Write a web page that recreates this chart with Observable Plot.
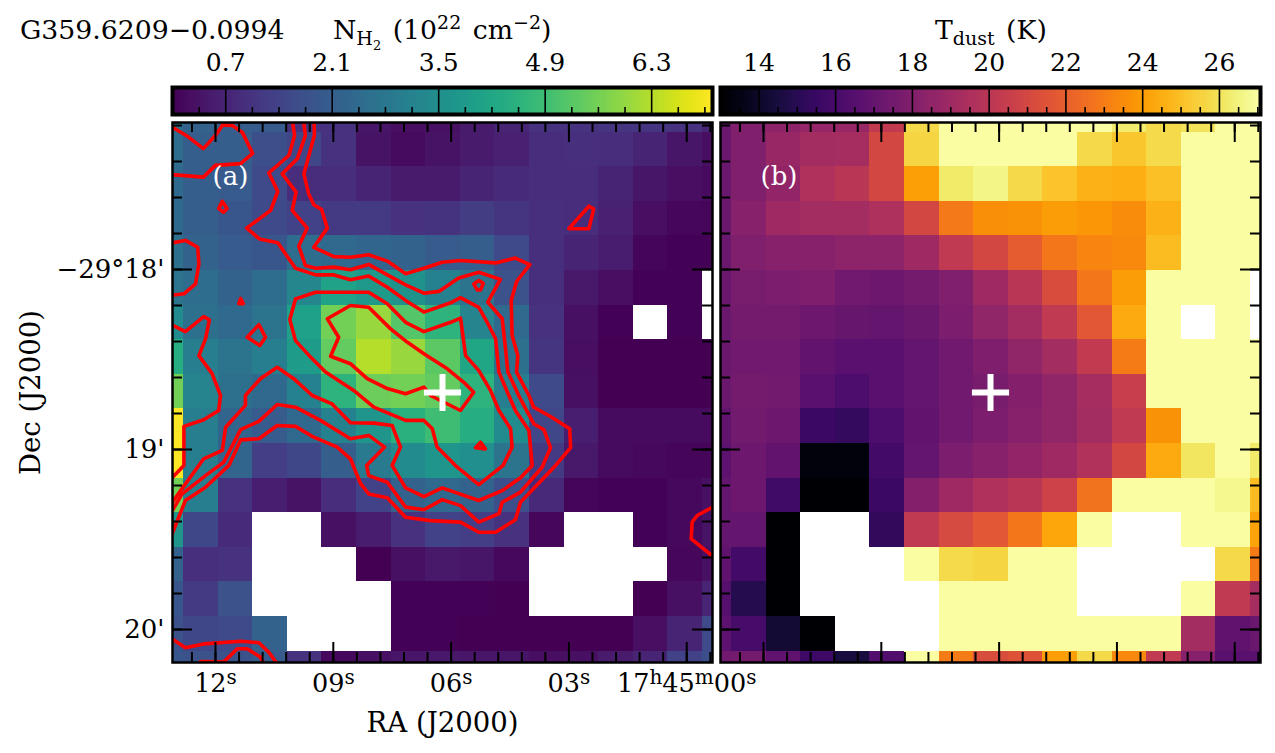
<!DOCTYPE html>
<html>
<head>
<meta charset="utf-8">
<script src="https://cdn.jsdelivr.net/npm/d3@7"></script>
<script src="https://cdn.jsdelivr.net/npm/@observablehq/plot@0.6"></script>
<style>
  html, body { margin: 0; padding: 0; background: #fff; }
  #fig { position: relative; width: 1275px; height: 753px; overflow: hidden; font-family: "DejaVu Serif", serif; color: #000; }
  #fig svg { position: absolute; left: 0; top: 0; background: transparent; overflow: visible; }
  .ttl { position: absolute; white-space: nowrap; font-size: 26.7px; line-height: 30px; word-spacing: 3px; }
  .ttl sub, .ttl sup { line-height: 0; }
  .ttl sub { font-size: 19px; }
  .ttl sup { font-size: 19px; }
  .ttl sub sub { font-size: 13px; }
</style>
</head>
<body>
<div id="fig">
  <div class="ttl" style="left:20px;top:15px">G359.6209−0.0994</div>
  <div class="ttl" style="left:333px;top:15px">N<sub>H<sub>2</sub></sub> (10<sup>22</sup> cm<sup>−2</sup>)</div>
  <div class="ttl" style="left:935px;top:15px">T<sub>dust</sub> (K)</div>
</div>
<script>
// ---- axes ----
const raMajor = [12, 9, 6, 3, 0];
const raMajorLabels = ["12s", "09s", "06s", "03s", "17h45m00s"];
const decMajor = [18, 19, 20];
const decMajorLabels = ["−29°18'", "19'", "20'"];
const raLeft = 13.095, raRight = -0.656;      // seconds of RA at frame edges
const decTop = 17.1833, decBottom = 20.1833;  // arcmin below -29 deg
const fieldArcsec = 180;
const nh2Ticks = [0.7, 2.1, 3.5, 4.9, 6.3];
const nh2Domain = [0, 7.1];
const tdustTicks = [14, 16, 18, 20, 22, 24, 26];
const tdustDomain = [13, 27.07];
const cellArcsec = 11.533, firstCol = 3.667, firstRow = 3.233;
const crossOffset = [90, 90];

// ---- column density per pixel, 10^22 cm^-2 (null = blank) ----
const nh2Grid = [
 [2.6,2.2,2.1,2.0,1.0,1.0,0.4,0.25,0.3,0.5,0.7,1.0,1.0,1.1,1.1,1.0,0.7],
 [2.5,2.1,2.1,1.7,1.5,1.0,0.35,0.2,0.35,0.5,0.65,0.9,0.95,0.9,0.7,0.4,0.25],
 [2.4,2.1,2.0,1.6,0.9,0.9,0.7,0.5,0.5,0.7,0.85,0.9,0.9,0.7,0.4,0.25,0.2],
 [2.4,2.1,1.9,1.6,1.4,1.2,1.2,1.0,1.05,1.25,1.1,0.95,0.9,0.65,0.25,0.12,0.1],
 [2.6,2.2,2.0,1.9,2.5,2.4,2.3,2.2,2.0,2.1,1.6,0.95,0.7,0.55,0.1,0.05,0.05],
 [2.7,2.5,2.2,2.5,3.3,4.1,3.8,3.6,3.1,2.7,1.8,0.95,0.45,0.25,0.05,0.05,null],
 [3.4,2.6,2.4,2.7,4.0,5.6,6.0,5.2,4.6,3.2,2.4,1.0,0.3,0.05,null,0.03,null],
 [4.4,3.0,2.7,3.0,3.9,5.4,6.3,6.0,5.3,4.2,2.6,1.1,0.25,0.02,0.02,0.02,0.02],
 [5.6,3.2,2.6,2.4,3.1,4.6,5.5,5.6,5.4,4.6,3.0,1.6,0.3,0.02,0.02,0.02,0.02],
 [7.1,3.0,2.3,2.0,2.4,3.1,3.7,4.5,4.9,4.4,3.4,1.5,0.6,0.2,0.2,0.2,0.2],
 [7.1,3.0,2.3,1.3,1.5,2.1,2.9,3.4,3.7,3.5,2.7,1.2,0.45,0.2,0.15,0.1,0.1],
 [5.6,3.0,1.0,0.6,0.35,0.9,1.4,2.2,2.4,2.2,1.7,0.8,0.1,0.05,0.05,0.15,0.3],
 [3.7,1.5,0.85,null,null,0.3,0.55,1.0,1.4,1.3,1.0,0.12,null,null,0.03,0.15,0.35],
 [2.2,0.95,1.0,null,null,null,0.02,0.3,0.45,0.4,0.15,null,null,null,null,0.12,0.3],
 [1.9,1.2,1.8,null,null,null,null,0.03,0.04,0.03,0.02,null,null,null,0.02,0.3,0.7],
 [1.8,1.5,1.6,2.2,null,null,null,0.03,0.03,0.02,0.02,0.02,0.02,0.02,0.25,0.7,1.6],
 [1.9,1.8,1.8,2.0,1.0,0.15,0.3,0.4,0.45,0.4,0.4,0.25,0.3,0.5,0.7,1.4,1.7]
];

// ---- dust temperature per pixel, K (null = blank) ----
const tdustGrid = [
 [17.2,18.0,18.4,18.7,18.8,20.3,25.8,27,27,27,27,27,26.3,25.8,26,27,27],
 [17.2,18,18.8,19.2,19.3,21.0,25.6,27,27,27,27,25.7,25.2,25.8,27,27,27],
 [17.2,18,18.6,19.6,20,21.0,24.1,26.2,26.6,25.7,25.1,24.6,24.5,25.0,27,27,27],
 [17.2,18.2,19.0,19.2,19.2,19.5,21,22.9,23.6,23.7,24.0,23.8,23.5,24.6,27,27,27],
 [17.2,18,18.2,18.2,18.4,18.4,19,20.2,21,21.9,22.8,23.3,23.4,24.9,27,27,27],
 [17.2,17.7,17.8,17.9,17.4,17.3,17.6,18,19,20,21.2,22.8,24,27,27,27,null],
 [17.2,17.6,17.6,17.3,17.1,17,17.2,17.8,18.5,19.2,20.2,21.7,24.4,27,null,27,null],
 [17.2,17.4,17.4,16.9,16.6,16.6,17,17.4,17.9,18.5,19.2,20.3,23,27,27,27,27],
 [17.2,17.6,17.5,16.6,16.2,16.6,17.0,17.4,17.7,18.1,18.5,19.3,20.5,27,27,27,27],
 [16.9,17.5,17.3,15.6,15.4,16.2,16.9,17.4,17.8,18.2,18.5,19.2,20.2,23.7,27,27,27],
 [16.7,17.3,16.9,13.3,13.3,15.9,17.0,17.8,18.2,18.6,19,19.7,21.0,24.4,26.1,27,26.2],
 [17,17.3,15.8,13,13,15.6,18.1,19,19.6,20,20.7,22.7,27,27,27,26.7,24.9],
 [17,17.0,13,null,null,15.3,20.2,21.1,21.7,22.8,24.3,27,null,null,27,27,24.2],
 [16.8,15.9,13,null,null,null,27,25.8,25.6,27,27,null,null,null,null,25.7,23.0],
 [16.5,14.9,13,null,null,null,null,27,27,27,27,null,null,null,27,20.2,19.3],
 [16.7,16.0,14.3,13,null,null,null,27,27,27,27,27,27,27,19.2,16.8,17.2],
 [17.4,17.6,16.8,15.7,14.5,16.4,27,23,21.2,21.5,24.1,25.7,23.4,20.2,18.2,16.6,16.6]
];

// ---- contours, vertices in arcsec east->west / north->south from the frame corner ----
const contourA = [[-1,1],[5,4.6],[10.3,8.7],[14.3,4.3],[16.7,0.8],[20,1],[23.3,3.3],[26.7,10.3],[22.7,13.7],[14.3,14.3],[10.3,18.2],[-1,17.3]];
const contourD = [[-1,40.3],[4.3,39.3],[8.4,41.6],[8.8,47.1],[7.7,53.8],[3.8,57.1],[-1,57.7]];
const contourE = [[-1,67.1],[4.3,69.7],[10.4,64.7],[12.3,65.8],[11,72.1],[8.8,77.7],[13.2,83.7],[16,91],[15.4,96],[10.4,99.1],[3.8,101.3],[3.8,114.3],[-1,119.3]];
const contourM1 = [[39.9,-1],[40.7,4.3],[38.8,11],[32.1,16.8],[35.1,23],[32.7,29.3],[24.7,35.2],[29,38.8],[35.1,40.1],[41,48.6],[47.7,50.8],[53.8,50.8],[59.3,52.4],[65.4,51.2],[71.6,54.9],[77.7,59.3],[83.8,63.2],[92.7,60.1],[96,58.4],[102.1,61.6],[104.9,66.6],[107.7,72.1],[108.8,83.2],[112.1,91],[114.3,96],[118.8,102.7],[119.9,114.3],[116,118.4],[109.9,122.7],[102.1,126],[89.9,121.8],[83.8,124.7],[77.7,121.8],[73.2,114.3],[76,108.2],[73.2,101],[67.1,100.2],[59.3,100.1],[53.2,93.8],[46.6,91],[40.4,85.4],[34.9,81.6],[29.3,85.4],[24.3,91],[24.3,94.3],[17.7,101.6],[16.6,109.3],[10.4,112.1],[2.7,122.7],[-1,128]];
const contourM2 = [[43.6,-1],[44.3,4.3],[41.6,12.1],[36.6,17.1],[41.2,23.2],[39.9,29.3],[44.9,35.2],[42.1,41.2],[44.3,47.7],[47.7,48.6],[53.8,48.2],[59.3,49.1],[65.4,47.3],[71.6,50.8],[77.7,54.1],[83.8,56.9],[88.8,56.3],[95.4,51.8],[102.1,49.9],[109.3,52.3],[105.1,59.9],[109.9,65.4],[111,75.4],[111.8,83.2],[115.4,91],[117.7,95.4],[120.4,100.4],[123.8,102.4],[126,108.4],[123.2,114.9],[116,123.2],[109.9,126.6],[108.8,130.4],[102.1,133.2],[96,127.7],[89.9,125.7],[83.8,129.1],[77.7,128.2],[71.6,119.9],[65.4,117.7],[64.7,114.3],[70.7,108.2],[65.4,104.3],[59.3,105.4],[49.3,99.3],[41,94.9],[34.9,94],[28.8,99.6],[22.7,102.4],[17.1,113.2],[11,117.7],[3.2,123.8],[-1,131]];
const contourM3 = [[47.2,-1],[47.3,4.3],[43.8,17.1],[45.4,23.8],[47.1,27.4],[49.7,29],[51.6,35.2],[47.1,41.6],[53.8,44.7],[59.3,44.9],[65.4,44.1],[71.6,46.2],[77.7,50.4],[83.8,48.6],[89.9,46.6],[96,46],[107.7,46.8],[114.3,45.2],[119.1,47.4],[114.7,53],[112.9,59.3],[113.2,71],[115.1,77.7],[114.7,83.2],[118.8,91],[120.4,94.9],[126,98],[132.4,102.1],[132.7,108.4],[127.7,114.3],[116,126.6],[114.3,132.4],[107.7,136.6],[102.1,136.6],[96,133.2],[86,132.7],[77.7,131.6],[71.6,125.1],[65.4,123.8],[62.7,120.4],[59.3,112.1],[54.9,108.2],[47.1,104.9],[41,101.3],[34.9,101],[28.8,105.4],[22.7,105.8],[18.8,114.3],[11,121.6],[4.3,126],[-1,139.3]];
const contourR = [[181,127.7],[174.9,131],[173.2,133.2],[172.9,138.8],[181,145.3]];
const contourS1 = [[-1,171.6],[4.3,175.1],[10.4,173.8],[22.7,172.9],[28.8,173.4],[32.1,176.6],[35.3,181]];
const contourS2 = [[9.3,179.7],[17.1,179.8],[21.6,175.4],[24.9,175.4],[29.3,178.2],[30.7,181]];
const closedB = [[16.6,26.3],[15.4,28.7],[17,29.9],[18.2,28.7]];
const closedC = [[22.7,58.7],[22.1,60.4],[23.6,60.4]];
const closedF = [[24.9,71.6],[28.8,67.4],[31,71.6],[29.1,74.3]];
const closedJ = [[41,58.8],[47.7,56.6],[65.4,56.6],[71.6,60.4],[77.7,66.6],[83.8,69.7],[92.7,66.6],[96,65.2],[97.7,77.7],[102.1,82.7],[106,89.3],[108.8,96],[112.7,102.1],[113.2,108.2],[110.2,114.3],[102.1,120.7],[94.9,114.9],[88.2,108.2],[86.6,102.1],[83.8,99.3],[77.7,99.3],[67.1,94.9],[60.4,89.3],[51,83.2],[46,78.2],[41,72.7],[39.1,65.7]];
const closedK = [[51.6,65.4],[59.3,61],[65.4,61.6],[72.7,68.8],[78.2,73.2],[83.8,77.1],[91.6,82.1],[97.1,86.6],[100.4,89.9],[96,96],[86,91],[83.8,88.2],[77.7,90.4],[71.6,88.7],[64.9,85.4],[59.3,80.4],[52.7,77.9],[55.4,71.6]];
const closedL = [[102.1,52.7],[100.4,53.8],[101.6,55.8],[102.7,55.8],[103.6,53.6]];
const closedQ = [[102.7,106.6],[101,108.4],[104.3,108.8]];
const closedT = [[138.8,27.9],[132.1,35.4],[138.8,35.4],[140.4,28.8]];

// ---- helpers ----
const font = "'DejaVu Serif', serif";
const raOf = dx => raLeft - dx * (raLeft - raRight) / fieldArcsec;
const decOf = dy => decTop + dy * (decBottom - decTop) / fieldArcsec;
const raMinor = d3.range(-1, 22).map(i => i * 0.6).filter(v => v < raLeft && v > raRight);
const decMinor = d3.range(86, 101).map(i => i * 0.2);
const toCells = grid => grid.flatMap((row, r) => row.map((v, c) => ({
  v,
  x1: raOf(firstCol + (c - 1) * cellArcsec), x2: raOf(firstCol + c * cellArcsec),
  y1: decOf(firstRow + (r - 1) * cellArcsec), y2: decOf(firstRow + r * cellArcsec)
}))).filter(d => d.v !== null);
const contours = [contourA, contourD, contourE, contourM1, contourM2, contourM3, contourR, contourS1, contourS2]
  .concat([closedB, closedC, closedF, closedJ, closedK, closedL, closedQ, closedT].map(p => [...p, p[0]]));

function tickMarks() {
  const w = 540;
  const major = 20, minor = 10;
  const tx = (vals, len) => [
    Plot.tickX(vals, {x: d => d, insetBottom: w - len, stroke: "#000", strokeWidth: 2}),
    Plot.tickX(vals, {x: d => d, insetTop: w - len, stroke: "#000", strokeWidth: 2})
  ];
  const ty = (vals, len) => [
    Plot.tickY(vals, {y: d => d, insetRight: w - len, stroke: "#000", strokeWidth: 2}),
    Plot.tickY(vals, {y: d => d, insetLeft: w - len, stroke: "#000", strokeWidth: 2})
  ];
  return [tx(raMajor, major), tx(raMinor, minor), ty(decMajor, major), ty(decMinor, minor)];
}

function panel({grid, scheme, domain, left, right, tag, extra}) {
  return Plot.plot({
    width: 1275, height: 753,
    marginLeft: left, marginRight: right, marginTop: 122, marginBottom: 91,
    style: {background: "transparent", fontFamily: font, fontSize: "24px", overflow: "visible"},
    x: {domain: [raLeft, raRight], axis: null},
    y: {domain: [decBottom, decTop], axis: null},
    color: {type: "linear", scheme, domain, clamp: true},
    marks: [
      Plot.rect(toCells(grid), {x1: "x1", x2: "x2", y1: "y1", y2: "y2", fill: "v", clip: "frame", shapeRendering: "crispEdges"}),
      ...(extra || []),
      Plot.dot([crossOffset], {x: d => raOf(d[0]), y: d => decOf(d[1]), symbol: "plus", r: 12, stroke: "#fff", strokeWidth: 6}),
      Plot.text([tag], {text: d => d, frameAnchor: "top-left", textAnchor: "start", lineAnchor: "middle", dx: 40, dy: 54, fill: "#fff", stroke: null, fontSize: 26, fontFamily: font}),
      tickMarks(),
      Plot.frame({stroke: "#000", strokeWidth: 2.5})
    ]
  });
}

function colorbar({scheme, domain, ticks, minorStep, left, right, fmt}) {
  const n = 270;
  const step = (domain[1] - domain[0]) / n;
  const steps = d3.range(n).map(i => domain[0] + i * step);
  const minors = d3.range(Math.ceil(domain[0] / minorStep), Math.floor(domain[1] / minorStep) + 1).map(i => i * minorStep)
    .filter(v => !ticks.some(t => Math.abs(t - v) < 1e-6));
  return Plot.plot({
    width: 1275, height: 120,
    marginLeft: left, marginRight: right, marginTop: 87, marginBottom: 6,
    style: {background: "transparent", fontFamily: font, fontSize: "25px", overflow: "visible"},
    x: {domain, axis: null},
    y: {axis: null},
    color: {type: "linear", scheme, domain},
    marks: [
      Plot.rect(steps, {x1: d => d, x2: d => d + step, y1: 0, y2: 1, fill: d => d + step / 2, shapeRendering: "crispEdges"}),
      Plot.tickX(ticks, {x: d => d, stroke: "#000", strokeWidth: 1.6}),
      Plot.tickX(minors, {x: d => d, insetTop: 20, stroke: "#000", strokeWidth: 1.6}),
      Plot.axisX({anchor: "top", ticks, tickSize: 0, tickPadding: 17, tickFormat: fmt, label: null, fontSize: 25}),
      Plot.frame({stroke: "#000", strokeWidth: 4})
    ]
  });
}

const contourMarks = [
  contours.map(c => Plot.line(c, {x: d => raOf(d[0]), y: d => decOf(d[1]), stroke: "#ff0000", strokeWidth: 3.6, strokeLinejoin: "round", clip: "frame", curve: "linear"})),
  Plot.axisX({anchor: "bottom", ticks: raMajor, tickSize: 0, tickPadding: 11, tickFormat: d => raMajorLabels[raMajor.indexOf(d)], fontSize: 25.5, label: "RA (J2000)", labelAnchor: "center", labelArrow: "none", labelOffset: 69}),
  Plot.axisY({anchor: "left", ticks: decMajor, tickSize: 0, tickPadding: 8, tickFormat: d => decMajorLabels[decMajor.indexOf(d)], fontSize: 26, label: "Dec (J2000)", labelAnchor: "center", labelArrow: "none", labelOffset: 152})
];

const fig = document.getElementById("fig");
const panelA = panel({grid: nh2Grid, scheme: "viridis", domain: nh2Domain, left: 172, right: 563, tag: "(a)", extra: contourMarks});
const panelB = panel({grid: tdustGrid, scheme: "inferno", domain: tdustDomain, left: 720, right: 15, tag: "(b)"});
const barA = colorbar({scheme: "viridis", domain: nh2Domain, ticks: nh2Ticks, minorStep: 0.35, left: 172, right: 563, fmt: d => d.toFixed(1)});
const barB = colorbar({scheme: "inferno", domain: tdustDomain, ticks: tdustTicks, minorStep: 0.5, left: 720, right: 15, fmt: d => String(d)});
[panelA, panelB, barA, barB].forEach(s => fig.appendChild(s));

// superscript the sexagesimal unit letters in the RA tick labels
d3.select(panelA).selectAll("g[aria-label='x-axis tick label'] text").each(function () {
  const parts = this.textContent.match(/\d+|[a-z]/g) || [];
  const t = d3.select(this).text(null);
  let up = false;
  parts.forEach(p => {
    const isUnit = /[a-z]/.test(p);
    const s = t.append("tspan").text(p);
    if (isUnit) { s.attr("dy", "-8").style("font-size", "20px"); up = true; }
    else { if (up) s.attr("dy", "8"); up = false; }
  });
});
d3.select(panelA).selectAll("g[aria-label='x-axis label'] text, g[aria-label='y-axis label'] text").style("font-size", "27.5px");
</script>
</body>
</html>
